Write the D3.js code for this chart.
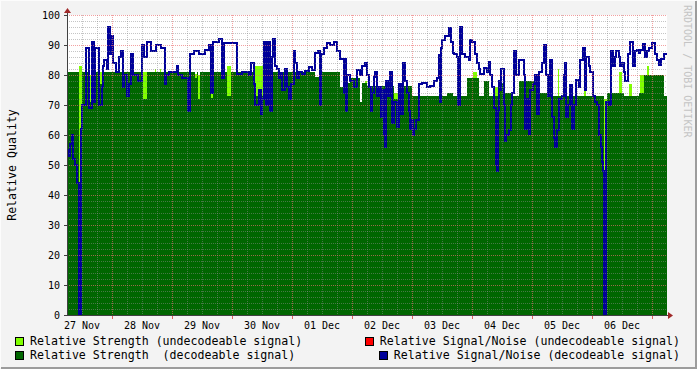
<!DOCTYPE html>
<meta charset="utf-8">
<script src="https://d3js.org/d3.v7.min.js"></script>
<style>
  body { margin: 0; background: #f3f3f3; }
  svg { display: block; font-family: "DejaVu Sans Mono", monospace; }
  text { white-space: pre; }
</style>
<div id="my_dataviz"></div>
<script>
  // one sample = 24 minutes, counted from 27 Nov 06:00, 600 samples = 10 days
  var stepMinutes = 24, nSteps = 600;
  var startTime = new Date(2009, 10, 27, 6, 0);

  // Relative Signal/Noise (decodeable signal): sample where a new value starts, value
  var snrAt = [0, 2, 3, 5, 6, 8, 10, 12, 14, 15, 19, 22, 25, 27, 28, 32, 35, 36, 37, 40,
    41, 43, 44, 46, 49, 52, 54, 56, 57, 60, 62, 64, 66, 71, 75, 77, 80, 84, 89, 94,
    98, 99, 102, 110, 111, 115, 121, 123, 127, 132, 138, 142, 144, 146, 152, 155, 157, 170, 175, 182,
    184, 187, 188, 192, 194, 195, 197, 199, 201, 203, 205, 206, 208, 210, 212, 214, 215, 218, 220, 222,
    224, 227, 228, 230, 232, 235, 238, 242, 245, 248, 251, 253, 254, 257, 260, 263, 267, 270, 273, 277,
    278, 279, 280, 283, 287, 290, 293, 295, 298, 300, 302, 304, 305, 307, 308, 310, 312, 314, 315, 317,
    318, 319, 321, 323, 325, 327, 330, 332, 334, 336, 338, 340, 342, 343, 345, 346, 347, 349, 352, 355,
    360, 363, 367, 370, 372, 373, 374, 375, 378, 382, 384, 386, 387, 390, 391, 393, 395, 398, 402, 403,
    405, 408, 410, 412, 413, 417, 420, 422, 423, 425, 427, 429, 430, 431, 432, 433, 434, 437, 438, 439,
    442, 444, 445, 447, 449, 452, 457, 458, 460, 462, 463, 466, 468, 470, 472, 475, 477, 479, 481, 483,
    485, 487, 488, 490, 492, 495, 497, 498, 499, 501, 503, 505, 507, 509, 512, 513, 516, 518, 519, 522,
    523, 526, 528, 530, 532, 534, 535, 536, 537, 539, 542, 544, 546, 548, 549, 552, 553, 555, 557, 558,
    561, 563, 566, 568, 570, 572, 573, 576, 578, 580, 582, 585, 588, 590, 592, 594, 597];
  var snrVal = [55, 53, 57, 60, 52, 50, 44, 0, 62, 70, 89, 69, 91, 71, 89, 70, 76, 83, 85, 82,
    96, 87, 93, 84, 81, 86, 88, 76, 80, 73, 77, 87, 80, 78, 90, 86, 91, 88, 90, 89,
    77, 80, 81, 83, 80, 79, 68, 87, 88, 87, 88.5, 90, 74, 91, 92, 79, 90.6, 80.5, 81, 80,
    84, 77, 70, 75, 67, 72, 91, 70, 91, 68, 86, 92, 83, 82, 79, 80.6, 75, 82, 76, 72,
    77, 88, 84, 79, 81, 80.5, 81.5, 82.8, 81.7, 87.2, 88, 70, 87, 89, 90.6, 90, 91, 88, 85.5, 74,
    85.5, 68, 80, 78, 76, 81.7, 80, 83, 84, 80, 76, 68, 74, 79.5, 81, 73, 76, 66, 75, 60,
    56, 78, 73, 81, 64, 71, 62.8, 77, 67, 84, 78, 74, 68, 62, 65, 60, 62, 65, 77, 77.5,
    76, 76.5, 78, 79, 86.7, 71, 89, 91.7, 93, 95.6, 91, 87.5, 87, 86, 70, 96, 87, 86, 85, 91.7,
    91, 87, 84, 82, 80.5, 82.5, 81, 84.4, 80, 76, 69, 50, 48, 68, 78, 75, 82, 70, 58, 60,
    61.7, 70, 74, 88, 80, 85, 80, 62, 72, 60.5, 75, 77, 80, 67, 81, 84, 90, 80, 73, 85,
    66, 59, 56, 61.7, 72, 73, 80, 84, 66, 70, 76.7, 62, 70, 78.5, 76, 85, 89, 75, 86, 83,
    81, 73, 71, 70, 60, 56, 51, 48, 0, 71, 70, 88, 83, 86, 88, 86, 83, 84, 81, 78,
    87, 91, 83, 88, 88.3, 87.5, 88.3, 90.4, 86, 88, 89, 90.6, 87, 85, 83.5, 85.5, 87];

  // Relative Strength (decodeable signal)
  var strAt = [0, 12, 15, 22, 25, 33, 35, 76, 80, 128, 130, 131, 133, 144, 146, 160, 164, 188, 196, 248,
    254, 273, 277, 283, 293, 295, 300, 327, 331, 345, 380, 386, 400, 412, 417, 422, 432, 437, 445, 452,
    472, 483, 537, 540, 557, 572, 577, 597];
  var strVal = [81, 0, 81, 71, 81, 77, 81, 72, 81, 79, 81, 72, 81, 72.5, 81, 73, 81, 73, 81, 79.5,
    81, 76, 77.5, 79, 71, 77.5, 76.5, 72, 76.5, 73, 74, 73, 79, 73, 78, 73, 77.5, 74, 73, 78,
    74, 73, 0, 74, 73, 74, 80, 73];

  // Relative Strength (undecodeable signal), 0 where nothing was received
  var weakAt = [0, 12, 15, 22, 25, 33, 35, 76, 80, 88, 89, 93, 94, 128, 130, 131, 133, 144, 146, 160,
    164, 188, 196, 298, 300, 327, 331, 406, 410, 428, 432, 491, 492, 517, 519, 537, 540, 552, 555, 562,
    565, 573, 577, 580, 582];
  var weakVal = [0, 83, 0, 80, 0, 81, 0, 81, 0, 82, 0, 82, 0, 80.5, 0, 80, 0, 80, 0, 83,
    0, 83, 0, 78, 0, 74, 0, 81, 0, 76, 0, 82, 0, 78, 0, 72, 0, 81, 0, 77,
    0, 80, 0, 83, 0];

  // Relative Signal/Noise (undecodeable signal): no samples in this period
  var weakSnrAt = [];
  var weakSnrVal = [];

  var yTicks = [0, 10, 20, 30, 40, 50, 60, 70, 80, 90, 100];
  var dayLabels = ["27 Nov", "28 Nov", "29 Nov", "30 Nov", "01 Dec", "02 Dec", "03 Dec", "04 Dec", "05 Dec", "06 Dec"];

  var legend = [
    { label: "Relative Strength (undecodeable signal)", color: "#80ff00", col: 0, row: 0 },
    { label: "Relative Signal/Noise (undecodeable signal)", color: "#ff0000", col: 1, row: 0 },
    { label: "Relative Strength  (decodeable signal)", color: "#006600", col: 0, row: 1 },
    { label: "Relative Signal/Noise (decodeable signal)", color: "#000099", col: 1, row: 1 }
  ];

  var W = 697, H = 369;
  var margin = { top: 15, right: 30, bottom: 54, left: 67 },
    width = 600,
    height = 300;

  var svg = d3.select("#my_dataviz")
    .append("svg")
    .attr("width", W)
    .attr("height", H);

  // background with rrdtool style shade
  svg.append("rect").attr("width", W).attr("height", H).attr("fill", "#f3f3f3");
  svg.append("path").attr("d", "M0,368 V0 H696").attr("fill", "none")
    .attr("stroke", "#fcfcfc").attr("stroke-width", 2);
  svg.append("path").attr("d", "M1,368 H696 V1").attr("fill", "none")
    .attr("stroke", "#9c9c9c").attr("stroke-width", 2);

  function stepTime(s) {
    return new Date(startTime.getTime() + s * stepMinutes * 60000);
  }

  var x = d3.scaleTime()
    .domain([startTime, stepTime(nSteps)])
    .range([margin.left, margin.left + width]);

  var y = d3.scaleLinear()
    .domain([0, 100])
    .range([margin.top + height, margin.top]);

  function toPoints(at, val) {
    var pts = at.map(function(s, i) { return { t: stepTime(s), v: val[i] }; });
    if (pts.length) pts.push({ t: stepTime(nSteps), v: val[val.length - 1] });
    return pts;
  }

  // canvas
  svg.append("rect")
    .attr("x", margin.left).attr("y", margin.top)
    .attr("width", width).attr("height", height)
    .attr("fill", "#ffffff");

  var area = d3.area()
    .x(function(d) { return x(d.t); })
    .y0(y(0))
    .y1(function(d) { return y(d.v); })
    .curve(d3.curveStepAfter);

  var line = d3.line()
    .x(function(d) { return x(d.t); })
    .y(function(d) { return y(d.v); })
    .curve(d3.curveStepAfter);

  var plot = svg.append("g").attr("shape-rendering", "crispEdges");

  plot.append("path").datum(toPoints(weakAt, weakVal))
    .attr("d", area).attr("fill", "#80ff00");
  plot.append("path").datum(toPoints(strAt, strVal))
    .attr("d", area).attr("fill", "#006600");

  // grid on top of the areas
  var grid = svg.append("g").attr("shape-rendering", "crispEdges").attr("stroke-dasharray", "1,1");
  var x0 = margin.left, x1 = margin.left + width;

  var minorY = d3.range(2, 100, 2).filter(function(v) { return v % 10 != 0; });
  grid.selectAll(".gy").data(minorY).enter().append("line")
    .attr("x1", x0).attr("x2", x1)
    .attr("y1", function(d) { return y(d) + 0.5; }).attr("y2", function(d) { return y(d) + 0.5; })
    .attr("stroke", "rgba(140,140,140,0.5)");

  var midnights = d3.timeDay.range(startTime, stepTime(nSteps));
  var sixHours = d3.timeHour.every(6).range(stepTime(1), stepTime(nSteps))
    .filter(function(d) { return d.getHours() != 0; });

  grid.selectAll(".gx").data(sixHours).enter().append("line")
    .attr("x1", function(d) { return x(d) + 0.5; }).attr("x2", function(d) { return x(d) + 0.5; })
    .attr("y1", margin.top).attr("y2", margin.top + height)
    .attr("stroke", "rgba(140,140,140,0.5)");

  grid.selectAll(".my").data(yTicks.slice(1)).enter().append("line")
    .attr("x1", x0).attr("x2", x1)
    .attr("y1", function(d) { return y(d) + 0.5; }).attr("y2", function(d) { return y(d) + 0.5; })
    .attr("stroke", "rgba(235,110,110,0.65)");

  grid.selectAll(".mx").data(midnights).enter().append("line")
    .attr("x1", function(d) { return x(d) + 0.5; }).attr("x2", function(d) { return x(d) + 0.5; })
    .attr("y1", margin.top).attr("y2", margin.top + height)
    .attr("stroke", "rgba(235,110,110,0.65)");

  // signal/noise lines
  if (weakSnrAt.length) {
    plot.append("path").datum(toPoints(weakSnrAt, weakSnrVal))
      .attr("d", line).attr("fill", "none").attr("stroke", "#ff0000").attr("stroke-width", 2);
  }
  plot.append("path").datum(toPoints(snrAt, snrVal))
    .attr("d", line).attr("fill", "none").attr("stroke", "#000099").attr("stroke-width", 2);

  // axes
  var ax = svg.append("g").attr("shape-rendering", "crispEdges");
  ax.append("line").attr("x1", x0 + 0.5).attr("x2", x0 + 0.5)
    .attr("y1", margin.top + height + 0.5).attr("y2", 11).attr("stroke", "#404040");
  ax.append("line").attr("x1", x0 - 3).attr("x2", x1 + 2)
    .attr("y1", margin.top + height + 0.5).attr("y2", margin.top + height + 0.5).attr("stroke", "#404040");

  ax.selectAll(".ty").data(yTicks).enter().append("line")
    .attr("x1", x0 - 3).attr("x2", x0)
    .attr("y1", function(d) { return y(d) + 0.5; }).attr("y2", function(d) { return y(d) + 0.5; })
    .attr("stroke", "#404040");
  ax.selectAll(".tx").data(midnights).enter().append("line")
    .attr("x1", function(d) { return x(d) + 0.5; }).attr("x2", function(d) { return x(d) + 0.5; })
    .attr("y1", margin.top + height + 1).attr("y2", margin.top + height + 4)
    .attr("stroke", "#e06060");

  // arrows
  svg.append("path").attr("d", "M64,13 L67.5,8 L71,13 Z").attr("fill", "#a02828");
  svg.append("path").attr("d", "M668,312 L673,315.5 L668,319 Z").attr("fill", "#a02828");

  // tick labels
  svg.selectAll(".yl").data(yTicks).enter().append("text")
    .attr("x", 60).attr("y", function(d) { return y(d) + 3.6; })
    .attr("text-anchor", "end").attr("font-size", "10px").attr("fill", "#000")
    .text(function(d) { return d; });

  svg.selectAll(".xl").data(dayLabels).enter().append("text")
    .attr("x", function(d, i) { return x(d3.timeHour.offset(d3.timeDay.floor(startTime), 24 * i + 12)); })
    .attr("y", 328.5)
    .attr("text-anchor", "middle").attr("font-size", "10px").attr("fill", "#000")
    .text(function(d) { return d; });

  // vertical axis title
  svg.append("text")
    .attr("transform", "translate(15.5," + (margin.top + height / 2) + ") rotate(-90)")
    .attr("text-anchor", "middle").attr("font-size", "11.6px").attr("fill", "#000")
    .text("Relative Quality");

  // watermark
  svg.append("text")
    .attr("transform", "translate(684,5) rotate(90)")
    .attr("font-size", "10px").attr("fill", "#c4c4c4")
    .text("RRDTOOL / TOBI OETIKER");

  // legend: left column from the left, right column flush right
  var lg = svg.selectAll(".lg").data(legend).enter().append("g")
    .attr("transform", function(d) {
      var tw = d.label.length * 6.98;
      var lx = d.col == 0 ? 15 : 680 - tw - 15;
      return "translate(" + lx + "," + (337 + d.row * 14) + ")";
    });
  lg.append("rect")
    .attr("x", 0.5).attr("y", 0.5).attr("width", 8).attr("height", 8)
    .attr("fill", function(d) { return d.color; })
    .attr("stroke", "#000").attr("shape-rendering", "crispEdges");
  lg.append("text")
    .attr("x", 15).attr("y", 8)
    .attr("font-size", "11.6px").attr("fill", "#000")
    .attr("xml:space", "preserve")
    .text(function(d) { return d.label; });
</script>
